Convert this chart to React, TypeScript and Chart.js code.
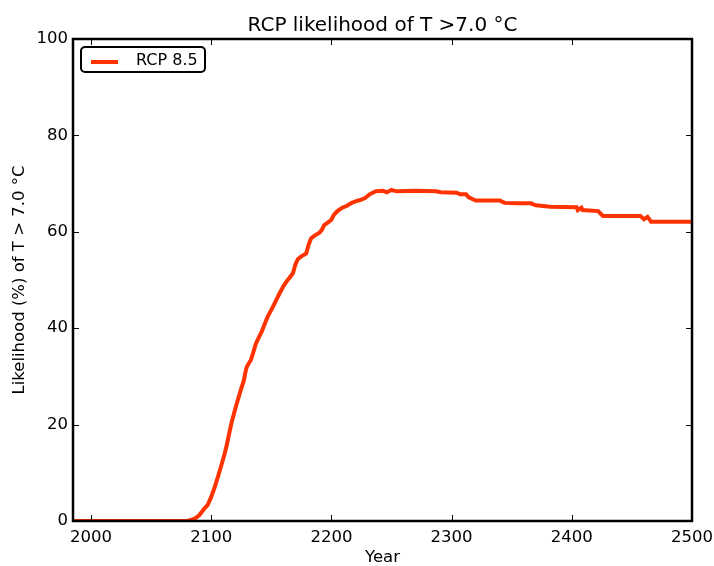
import React, { useEffect, useRef } from "react";
import { Chart, registerables } from "chart.js";

Chart.register(...registerables);

const titleText = "RCP likelihood of T >7.0 °C";
const xLabel = "Year";
const yLabel = "Likelihood (%) of T > 7.0 °C";
const seriesName = "RCP 8.5";

const years = [
  1986, 2000, 2050, 2080, 2083, 2087, 2090, 2094, 2097, 2100, 2103, 2106, 2108, 2111, 2113, 2115,
  2117, 2120, 2122, 2125, 2127, 2129, 2130, 2133, 2135, 2137, 2140, 2142, 2145, 2147, 2150, 2152,
  2155, 2157, 2160, 2163, 2165, 2168, 2170, 2172, 2175, 2179, 2181, 2183, 2186, 2190, 2192, 2194,
  2197, 2200, 2202, 2205, 2209, 2213, 2217, 2220, 2224, 2228, 2232, 2237, 2243, 2246, 2250, 2254,
  2270, 2287, 2291, 2304, 2307, 2312, 2314, 2320, 2340, 2344, 2354, 2366, 2370, 2382, 2404, 2405,
  2408, 2409, 2422, 2423, 2426, 2457, 2460, 2463, 2466, 2500,
];
const likelihood = [
  0, 0, 0, 0, 0.2, 0.6, 1.2, 2.5, 3.3, 5.0, 7.1, 9.5, 11.2, 13.8, 15.8, 18.2,
  20.5, 23.3, 25.0, 27.5, 29.0, 31.5, 32.2, 33.4, 35.0, 36.7, 38.3, 39.3, 41.2, 42.4, 43.8, 44.8,
  46.3, 47.3, 48.7, 49.8, 50.4, 51.4, 53.2, 54.3, 54.9, 55.5, 57.3, 58.6, 59.2, 59.8, 60.4, 61.4,
  61.9, 62.5, 63.5, 64.3, 65.0, 65.4, 66.0, 66.3, 66.6, 67.0, 67.8, 68.4, 68.5, 68.2, 68.7, 68.4,
  68.5, 68.4, 68.2, 68.1, 67.8, 67.8, 67.2, 66.5, 66.5, 66.0, 65.9, 65.9, 65.5, 65.2, 65.1, 64.5,
  65.0, 64.5, 64.3, 64.0, 63.3, 63.3, 62.6, 63.1, 62.1, 62.1,
];
const xTicks = [2000, 2100, 2200, 2300, 2400, 2500];
const yTicks = [0, 20, 40, 60, 80, 100];
const xMin = 1985;
const xMax = 2500;
const yMin = 0;
const yMax = 100;

const LINE_COLOR = "rgb(255,51,0)";
const FONT = "'DejaVu Sans', sans-serif";

const framePlugin = {
  id: "frameTicks",
  afterDraw(chart: any) {
    const { ctx, chartArea } = chart;
    const { left, right, top, bottom } = chartArea;
    const xs = chart.scales.x;
    const ys = chart.scales.y;
    const tl = 6;
    ctx.save();
    ctx.strokeStyle = "#000";
    ctx.lineWidth = 1;
    ctx.beginPath();
    for (const v of xTicks) {
      const px = Math.round(xs.getPixelForValue(v)) + 0.5;
      ctx.moveTo(px, bottom);
      ctx.lineTo(px, bottom - tl);
      ctx.moveTo(px, top);
      ctx.lineTo(px, top + tl);
    }
    for (const v of yTicks) {
      const py = Math.round(ys.getPixelForValue(v)) + 0.5;
      ctx.moveTo(left, py);
      ctx.lineTo(left + tl, py);
      ctx.moveTo(right, py);
      ctx.lineTo(right - tl, py);
    }
    ctx.stroke();
    ctx.lineWidth = 2.5;
    ctx.strokeRect(left, top, right - left, bottom - top);

    // title, centred over the plot area
    ctx.fillStyle = "#000";
    ctx.font = `20px ${FONT}`;
    ctx.textAlign = "center";
    ctx.textBaseline = "alphabetic";
    ctx.fillText(titleText, (left + right) / 2, top - 8);

    // legend
    const bx = left + 8;
    const by = top + 8;
    const bw = 124;
    const bh = 25;
    const r = 4;
    ctx.beginPath();
    ctx.moveTo(bx + r, by);
    ctx.lineTo(bx + bw - r, by);
    ctx.arcTo(bx + bw, by, bx + bw, by + r, r);
    ctx.lineTo(bx + bw, by + bh - r);
    ctx.arcTo(bx + bw, by + bh, bx + bw - r, by + bh, r);
    ctx.lineTo(bx + r, by + bh);
    ctx.arcTo(bx, by + bh, bx, by + bh - r, r);
    ctx.lineTo(bx, by + r);
    ctx.arcTo(bx, by, bx + r, by, r);
    ctx.closePath();
    ctx.fillStyle = "#fff";
    ctx.fill();
    ctx.lineWidth = 2;
    ctx.strokeStyle = "#000";
    ctx.stroke();
    ctx.beginPath();
    ctx.strokeStyle = LINE_COLOR;
    ctx.lineWidth = 4;
    ctx.moveTo(bx + 10, by + 15);
    ctx.lineTo(bx + 37, by + 15);
    ctx.stroke();
    ctx.fillStyle = "#000";
    ctx.font = `16px ${FONT}`;
    ctx.textBaseline = "middle";
    ctx.textAlign = "left";
    ctx.fillText(seriesName, bx + 55, by + 14);
    ctx.restore();
  },
};

export default function App() {
  const ref = useRef<HTMLCanvasElement | null>(null);
  useEffect(() => {
    if (!ref.current) return;
    const data = years.map((y, i) => ({ x: y, y: likelihood[i] }));
    const chart = new Chart(ref.current, {
      type: "line",
      data: {
        datasets: [
          {
            label: seriesName,
            data,
            borderColor: LINE_COLOR,
            backgroundColor: LINE_COLOR,
            borderWidth: 4,
            pointRadius: 0,
            tension: 0,
            fill: false,
          },
        ],
      },
      options: {
        animation: false,
        responsive: false,
        maintainAspectRatio: false,
        layout: { padding: { left: 0, right: 22, top: 39, bottom: 0 } },
        plugins: {
          legend: { display: false },
          tooltip: { enabled: false },
          title: { display: false },
        },
        scales: {
          x: {
            type: "linear",
            min: xMin,
            max: xMax,
            grid: { display: false, drawTicks: false },
            border: { display: false },
            afterBuildTicks: (s: any) => {
              s.ticks = xTicks.map((v) => ({ value: v }));
            },
            afterFit: (s: any) => {
              s.height = 45;
              s.paddingLeft = 0;
              s.paddingRight = 0;
            },
            ticks: {
              color: "#000",
              font: { family: FONT, size: 16.5 },
              padding: 7,
              maxRotation: 0,
              autoSkip: false,
              callback: (v: any) => String(v),
            },
            title: {
              display: true,
              text: xLabel,
              color: "#000",
              font: { family: FONT, size: 16.5 },
              padding: { top: 0, bottom: -2 },
            },
          },
          y: {
            type: "linear",
            min: yMin,
            max: yMax,
            grid: { display: false, drawTicks: false },
            border: { display: false },
            afterBuildTicks: (s: any) => {
              s.ticks = yTicks.map((v) => ({ value: v }));
            },
            afterFit: (s: any) => {
              s.width = 73;
              s.paddingTop = 0;
              s.paddingBottom = 0;
            },
            ticks: {
              color: "#000",
              font: { family: FONT, size: 16.5 },
              padding: 5,
              autoSkip: false,
              callback: (v: any) => String(v),
            },
            title: {
              display: true,
              text: yLabel,
              color: "#000",
              font: { family: FONT, size: 16.5 },
              padding: { top: 10, bottom: 0 },
            },
          },
        },
      },
      plugins: [framePlugin],
    });
    return () => chart.destroy();
  }, []);
  return (
    <div style={{ position: "absolute", left: 0, top: 0, width: 714, height: 566, background: "#fff" }}>
      <canvas ref={ref} width={714} height={566} style={{ width: 714, height: 566, display: "block" }} />
    </div>
  );
}
